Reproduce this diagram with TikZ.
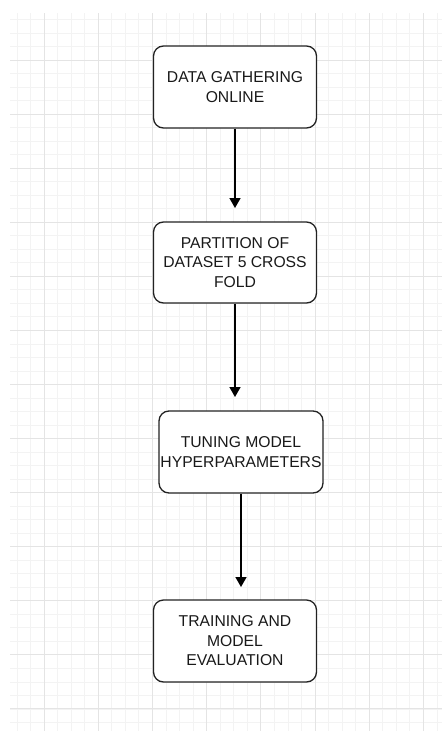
\documentclass[tikz,border=0pt]{standalone}
\usepackage{fontspec}
\setmainfont{Liberation Sans}
\usetikzlibrary{arrows.meta}
\definecolor{minorgrid}{HTML}{F3F3F3}
\definecolor{majorgrid}{HTML}{E4E4E4}
\definecolor{strokec}{HTML}{222222}
\begin{document}
\begin{tikzpicture}[x=1pt,y=-1pt,
  stepbox/.style={draw=strokec, line width=1.3pt, rounded corners=10pt, fill=white,
    minimum width=163pt, minimum height=82pt, inner sep=0pt, align=center,
    font=\fontsize{15.7}{19.5}\selectfont, text=black!90},
  flow/.style={draw=black, line width=1.6pt, -{Triangle[width=11pt,length=10pt]}}]
\useasboundingbox (0,0) rectangle (442,731);
\fill[white] (0,0) rectangle (442,731);
% grid
\begin{scope}
\clip (10,13) rectangle (442,731);
\foreach \k in {-2,...,29} \draw[minorgrid, line width=0.8pt] ({44+13.55*\k},13) -- ({44+13.55*\k},731);
\foreach \k in {-3,...,49} \draw[minorgrid, line width=0.8pt] (10,{60+13.52*\k}) -- (442,{60+13.52*\k});
\foreach \m in {0,...,7} \draw[majorgrid, line width=1pt] ({44+54.2*\m},13) -- ({44+54.2*\m},731);
\foreach \m in {0,...,12} \draw[majorgrid, line width=1pt] (10,{60+54.08*\m}) -- (442,{60+54.08*\m});
\end{scope}
% boxes
\node[stepbox] (b1) at (235,87) {DATA GATHERING\\ONLINE};
\node[stepbox, minimum height=81pt] (b2) at (235,262.5) {PARTITION OF\\DATASET 5 CROSS\\FOLD};
\node[stepbox, minimum width=164pt] (b3) at (241,452) {TUNING MODEL\\HYPERPARAMETERS};
\node[stepbox] (b4) at (235,641) {TRAINING AND\\MODEL\\EVALUATION};
% arrow ends
\coordinate (e1) at (235,208);
\coordinate (e2) at (235,397);
\coordinate (e3) at (241,587);
\draw[flow] (b1.south) -- (e1);
\draw[flow] (b2.south) -- (e2);
\draw[flow] (b3.south) -- (e3);
\end{tikzpicture}
\end{document}
